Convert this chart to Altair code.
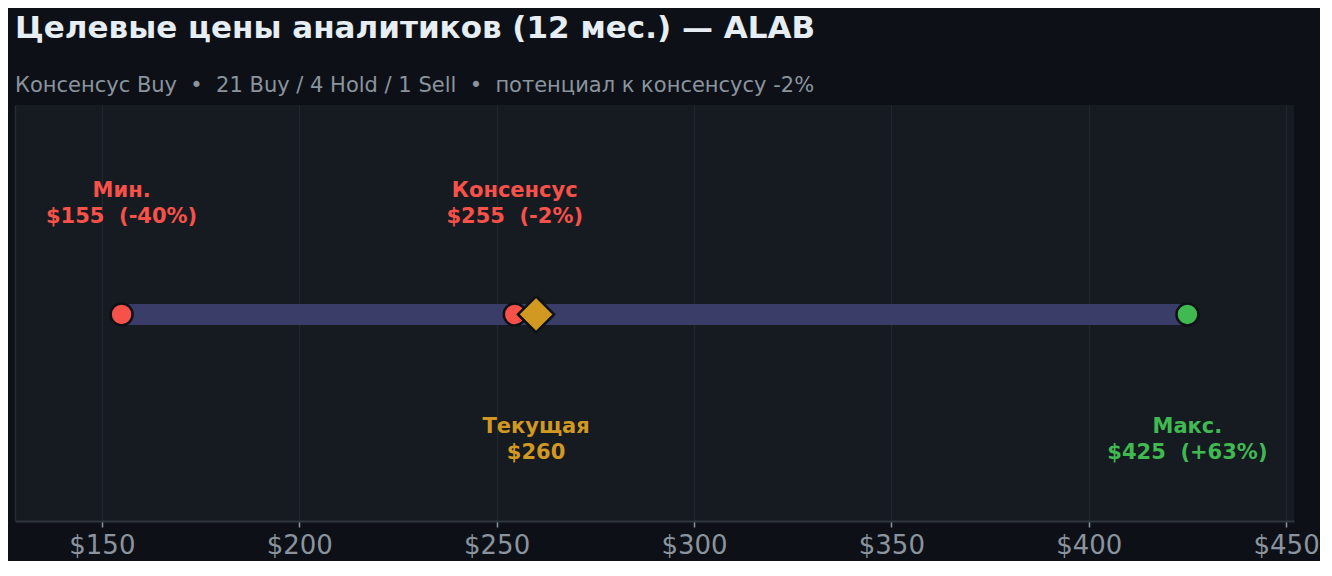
import altair as alt
import pandas as pd

# ---- data ----
ticker = "ALAB"
current_price = 260
target_names = ["Мин.", "Консенсус", "Макс."]
target_values = [155, 254.6, 425]
ratings = ["21 Buy", "4 Hold", "1 Sell"]
consensus_rating = "Buy"
current_name = "Текущая"
tick_values = [150, 200, 250, 300, 350, 400, 450]

RED = "#f85149"
GREEN = "#3fb950"
GOLD = "#d29922"
BG = "#0d1117"
PANEL = "#161b22"


def pct(v):
    return (v / current_price - 1) * 100


def fmt_line2(v):
    p = round(pct(v))
    sign = "+" if p > 0 else ""
    return f"${v:.0f}\u00a0\u00a0({sign}{p}%)"


target_colors = [GREEN if v >= current_price else RED for v in target_values]

tdf = pd.DataFrame({
    "name": target_names,
    "value": target_values,
    "color": target_colors,
})
tdf["label"] = [[n, fmt_line2(v)] for n, v in zip(target_names, target_values)]

cdf = pd.DataFrame({"value": [current_price], "label": [[current_name, f"${current_price:.0f}"]]})
rdf = pd.DataFrame({"lo": [min(target_values)], "hi": [max(target_values)]})

cons_pct = round(pct(target_values[1]))
title = f"Целевые цены аналитиков (12 мес.) — {ticker}"
sub = (f"Консенсус {consensus_rating}\u00a0\u00a0•\u00a0\u00a0" + " / ".join(ratings)
       + f"\u00a0\u00a0•\u00a0\u00a0потенциал к консенсусу {cons_pct}%")

xscale = alt.Scale(domain=[128, 452], nice=False, zero=False)
yscale = alt.Scale(domain=[-0.993, 1.007], nice=False, zero=False)

xaxis = alt.Axis(
    values=tick_values, format="$,.0f", title=None,
    labelFontSize=26, labelColor="#8b949e", labelFont="DejaVu Sans",
    tickColor="#8b949e", tickSize=6, tickWidth=1.5, labelPadding=5,
    domainColor="#30363d", domainWidth=2,
    grid=True, gridColor="#232830", gridWidth=1,
)
yaxis = alt.Axis(labels=False, ticks=False, title=None, grid=False,
                 domainColor="#262b33", domainWidth=1.5)

base = alt.Chart(tdf)

range_bar = alt.Chart(rdf).mark_rule(strokeWidth=21, color="#393d67", strokeCap="butt").encode(
    x=alt.X("lo:Q", scale=xscale, axis=xaxis),
    x2="hi:Q",
    y=alt.Y(datum=0, scale=yscale, axis=yaxis),
)

dots = base.mark_point(shape="circle", filled=True, size=480, stroke=BG, strokeWidth=2.5, opacity=1).encode(
    x=alt.X("value:Q", scale=xscale),
    y=alt.datum(0),
    fill=alt.Fill("color:N", scale=None),
)

diamond = alt.Chart(cdf).mark_point(shape="diamond", filled=True, size=1300, fill=GOLD, stroke=BG,
                                    strokeWidth=2.5, opacity=1).encode(
    x=alt.X("value:Q", scale=xscale),
    y=alt.datum(0),
)

text_style = dict(font="DejaVu Sans", fontWeight="bold", fontSize=21, align="center",
                  baseline="alphabetic", lineHeight=26)

tlabels_top = base.transform_filter(alt.datum.value < current_price).mark_text(**text_style).encode(
    x=alt.X("value:Q", scale=xscale),
    y=alt.datum(0.565),
    text="label",
    color=alt.Color("color:N", scale=None),
)
tlabels_bot = base.transform_filter(alt.datum.value >= current_price).mark_text(**text_style).encode(
    x=alt.X("value:Q", scale=xscale),
    y=alt.datum(-0.57),
    text="label",
    color=alt.Color("color:N", scale=None),
)
clabel = alt.Chart(cdf).mark_text(color=GOLD, **text_style).encode(
    x=alt.X("value:Q", scale=xscale),
    y=alt.datum(-0.57),
    text="label",
)

chart = alt.layer(range_bar, dots, diamond, tlabels_top, tlabels_bot, clabel).properties(
    width=1279, height=416,
    padding={"left": 7, "top": 5, "right": 0, "bottom": 3},
    background=BG,
    title=alt.TitleParams(
        text=title, subtitle=sub, anchor="start", frame="group",
        font="DejaVu Sans", fontSize=31, fontWeight="bold", color="#e6edf3",
        subtitleFont="DejaVu Sans", subtitleFontSize=21, subtitleColor="#8b949e",
        subtitlePadding=30, offset=8,
    ),
).configure_view(fill=PANEL, stroke=None)

chart.save("out.html", embed_options={"renderer": "svg", "actions": False})
